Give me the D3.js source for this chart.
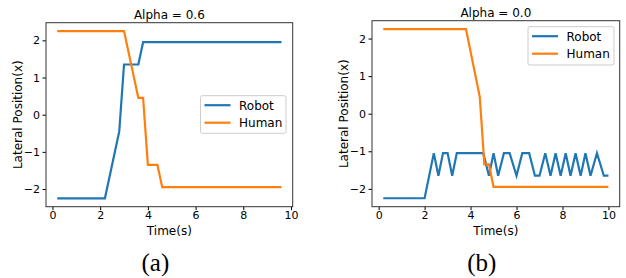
<!DOCTYPE html>
<html>
<head>
<meta charset="utf-8">
<script src="https://cdn.jsdelivr.net/npm/d3@7"></script>
<style>
  body { margin: 0; background: #fff; }
  svg { display: block; }
  .tick text { font-family: "DejaVu Sans", sans-serif; font-size: 11px; fill: #000; }
  .tick line, .domain { stroke: #000; }
</style>
</head>
<body>
<svg id="chart" width="626" height="278"></svg>
<script>
// time / position vertices
const robotA_t = [0.2, 2.2, 2.8, 3.0, 3.6, 3.8, 9.6];
const robotA_x = [-2.25, -2.25, -0.45, 1.35, 1.35, 1.95, 1.95];
const humanA_t = [0.2, 3.0, 3.6, 3.8, 4.0, 4.4, 4.6, 9.6];
const humanA_x = [2.25, 2.25, 0.45, 0.45, -1.35, -1.35, -1.95, -1.95];

const robotB_t = [0.2, 2.0, 2.4, 2.6, 2.8, 3.0, 3.2, 3.4, 4.55, 4.8, 5.0, 5.2, 5.45, 5.7, 6.0, 6.25, 6.55, 6.8, 7.0,
  7.25, 7.48, 7.7, 7.92, 8.14, 8.35, 8.57, 8.79, 9.0, 9.22, 9.5, 9.8, 10.0];
const robotB_x = [-2.25, -2.25, -1.05, -1.65, -1.05, -1.05, -1.65, -1.05, -1.05, -1.65, -1.05, -1.65, -1.05, -1.05, -1.65, -1.05, -1.05, -1.65, -1.65,
  -1.05, -1.65, -1.05, -1.65, -1.05, -1.65, -1.05, -1.65, -1.05, -1.65, -1.05, -1.65, -1.65];
const humanB_t = [0.2, 3.8, 4.4, 4.6, 4.8, 5.0, 10.0];
const humanB_x = [2.25, 2.25, 0.45, -1.35, -1.35, -1.95, -1.95];

const xTicks = [0, 2, 4, 6, 8, 10];
const yTicks = [-2, -1, 0, 1, 2];
const seriesNames = ['Robot', 'Human'];
const colors = ['#1f77b4', '#ff7f0e'];

const panels = [
  { title: 'Alpha = 0.6', caption: '(a)', left: 46, right: 292.7, top: 22.7, bottom: 206.7,
    xDom: [-0.27, 10.07], robot: [robotA_t, robotA_x], human: [humanA_t, humanA_x],
    legend: { x: 200.5, y: 95.7, w: 85.5, h: 37.6 } },
  { title: 'Alpha = 0.0', caption: '(b)', left: 372, right: 619.7, top: 20.7, bottom: 206.7,
    xDom: [-0.29, 10.49], robot: [robotB_t, robotB_x], human: [humanB_t, humanB_x],
    legend: { x: 528, y: 26.7, w: 86, h: 38.3 } }
];

const svg = d3.select('#chart');
const minus = s => String(s).replace('-', '\u2212');

panels.forEach(p => {
  const x = d3.scaleLinear().domain(p.xDom).range([p.left, p.right]);
  const y = d3.scaleLinear().domain([-2.475, 2.475]).range([p.bottom, p.top]);
  const g = svg.append('g');

  const xAxis = d3.axisBottom(x).tickValues(xTicks).tickSize(3.5).tickPadding(1.5).tickFormat(d => d);
  const yAxis = d3.axisLeft(y).tickValues(yTicks).tickSize(3.5).tickPadding(2.5).tickFormat(minus);

  g.append('g').attr('transform', 'translate(0,' + p.bottom + ')').call(xAxis)
    .call(a => a.select('.domain').remove());
  g.append('g').attr('transform', 'translate(' + p.left + ',0)').call(yAxis)
    .call(a => a.select('.domain').remove());

  const line = d3.line().x(d => x(d[0])).y(d => y(d[1]));
  [p.robot, p.human].forEach((s, i) => {
    g.append('path')
      .datum(d3.zip(s[0], s[1]))
      .attr('d', line)
      .attr('fill', 'none')
      .attr('stroke', colors[i])
      .attr('stroke-width', 2.2)
      .attr('stroke-linejoin', 'miter');
  });

  g.append('rect')
    .attr('x', p.left).attr('y', p.top)
    .attr('width', p.right - p.left).attr('height', p.bottom - p.top)
    .attr('fill', 'none').attr('stroke', '#333').attr('stroke-width', 1);

  g.append('text')
    .attr('x', (p.left + p.right) / 2).attr('y', p.top - 4)
    .attr('text-anchor', 'middle')
    .style('font-family', 'DejaVu Sans, sans-serif').style('font-size', '12px')
    .text(p.title);

  g.append('text')
    .attr('x', (p.left + p.right) / 2).attr('y', 235)
    .attr('text-anchor', 'middle')
    .style('font-family', 'DejaVu Sans, sans-serif').style('font-size', '12px')
    .text('Time(s)');

  g.append('text')
    .attr('transform', 'translate(' + (p.left - 24) + ',' + ((p.top + p.bottom) / 2) + ') rotate(-90)')
    .attr('text-anchor', 'middle')
    .style('font-family', 'DejaVu Sans, sans-serif').style('font-size', '12px')
    .text('Lateral Position(x)');

  g.append('text')
    .attr('x', (p.left + p.right) / 2 - 14).attr('y', 271)
    .attr('text-anchor', 'middle')
    .style('font-family', 'Liberation Serif, Times New Roman, serif').style('font-size', '25px')
    .text(p.caption);

  // legend
  const L = p.legend;
  const lg = g.append('g');
  lg.append('rect')
    .attr('x', L.x).attr('y', L.y).attr('width', L.w).attr('height', L.h)
    .attr('rx', 2).attr('fill', '#fff').attr('fill-opacity', 0.8)
    .attr('stroke', '#ccc').attr('stroke-width', 1);
  seriesNames.forEach((name, i) => {
    const cy = L.y + 9.5 + i * 17.5;
    lg.append('line')
      .attr('x1', L.x + 4).attr('x2', L.x + 30)
      .attr('y1', cy).attr('y2', cy)
      .attr('stroke', colors[i]).attr('stroke-width', 2.2);
    lg.append('text')
      .attr('x', L.x + 38.5).attr('y', cy + 4.5)
      .style('font-family', 'DejaVu Sans, sans-serif').style('font-size', '12px')
      .text(name);
  });
});
</script>
</body>
</html>
